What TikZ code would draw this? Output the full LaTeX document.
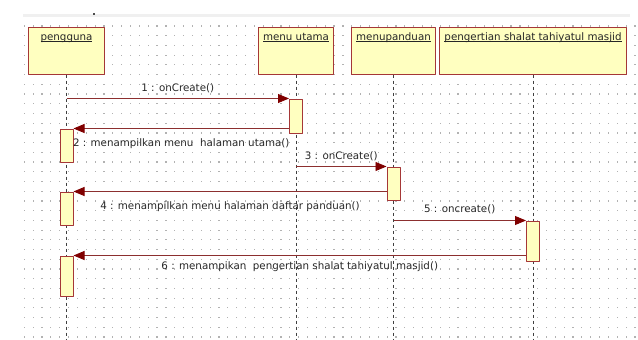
\documentclass[tikz,border=0pt]{standalone}
\usepackage{fontspec}
\setmainfont{DejaVu Sans}
\usetikzlibrary{arrows.meta}
\definecolor{kuning}{RGB}{255,255,192}
\definecolor{merah}{RGB}{165,55,55}
\definecolor{panah}{RGB}{128,0,0}
\newcommand\garisbawah[1]{\underline{\smash{#1}}}
\begin{document}
\begin{tikzpicture}[x=1pt, y=-1pt, font=\fontsize{10.3}{12}\selectfont, line join=round,
	objek/.style={draw=merah, fill=kuning, line width=1pt, minimum height=47pt, inner sep=0pt},
	aktif/.style={draw=merah, fill=kuning, line width=1pt, minimum width=13pt, inner sep=0pt},
	pesan/.style={draw=merah!85!black, line width=0.9pt, -{Triangle[length=11pt,width=9pt,color=panah,fill=panah]}},
	garis/.style={dash pattern=on 3pt off 3pt, line width=0.8pt, draw=gray!50!black},
	teks/.style={text=black!85, inner sep=0pt}]
	\useasboundingbox (0,0) rectangle (638,340);
	\def\yobj{50.5} % tengah kotak objek
	\def\ybawah{340} % ujung garis hidup
	% latar titik-titik
	\fill[gray!12] (23,13.5) rectangle (630,16.5);
	\fill[black!70] (93,12.5) rectangle (95,15);
	\foreach \i in {0,...,69}
		\foreach \j in {0,...,32}
			\fill[gray!60] ({24.3+\i*8.85-0.6},{26+\j*9.72-0.6}) rectangle ++(1.2,1.2);
	% objek
	\node[objek, minimum width=76pt] (pengguna) at (66.5,\yobj) {};
	\node[objek, minimum width=75pt] (menuutama) at (296,\yobj) {};
	\node[objek, minimum width=84pt] (menupanduan) at (393.5,\yobj) {};
	\node[objek, minimum width=187pt] (pengertian) at (533,\yobj) {};
	\foreach \o/\t in {pengguna/pengguna, menuutama/menu utama, menupanduan/menupanduan, pengertian/pengertian shalat tahiyatul masjid}{
		\node[teks] (\o-nama) at ([yshift=-14.5pt]\o.north) {\garisbawah{\t}};
		\coordinate (\o-bawah) at (\o.south |- 0,\ybawah);
		\draw[garis] (\o.south)--(\o-bawah);
	}
	% aktivasi
	\node[aktif, minimum height=34pt] (a1) at (296,116) {};
	\node[aktif, minimum height=33pt] (a2) at (66.5,145.5) {};
	\node[aktif, minimum height=33pt] (a3) at (393.5,183.5) {};
	\node[aktif, minimum height=33pt] (a4) at (66.5,208.5) {};
	\node[aktif, minimum height=40pt] (a5) at (533,241) {};
	\node[aktif, minimum height=40pt] (a6) at (66.5,276) {};
	% pesan
	\draw[pesan] (pengguna.south |- a1.north) -- node[teks, midway, yshift=10pt] {1 : onCreate()} (a1.north west);
	\draw[pesan] (a1.west |- a2.north) -- node[teks, midway, yshift=-15pt] {2 : menampilkan menu\ \ halaman utama()} (a2.north east);
	\draw[pesan] (menuutama.south |- a3.north) -- node[teks, midway, yshift=10pt] {3 : onCreate()} (a3.north west);
	\draw[pesan] (a3.west |- a4.north) -- node[teks, midway, yshift=-15pt] {4 : menampilkan menu halaman daftar panduan()} (a4.north east);
	\draw[pesan] (menupanduan.south |- a5.north) -- node[teks, midway, yshift=11pt] {5 : oncreate()} (a5.north west);
	\draw[pesan] (a5.west |- a6.north) -- node[teks, midway, yshift=-11pt] {6 : menampikan\ \ pengertian shalat tahiyatul masjid()} (a6.north east);
\end{tikzpicture}
\end{document}
